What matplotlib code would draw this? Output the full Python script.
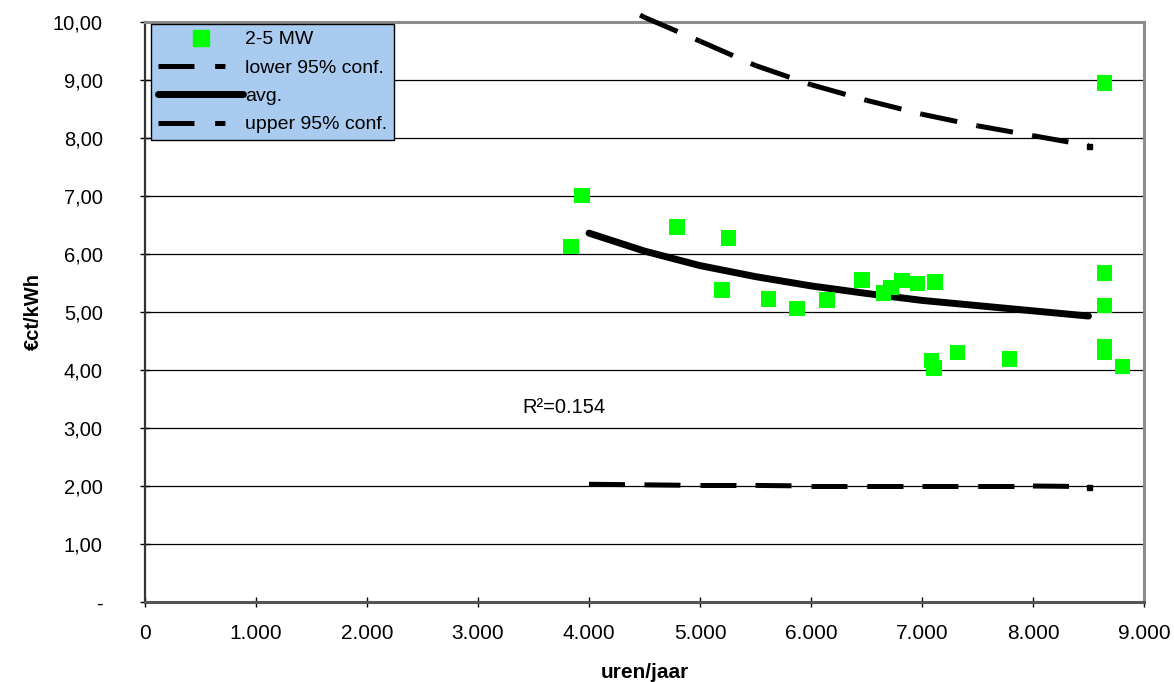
import matplotlib
matplotlib.use("Agg")
import matplotlib.pyplot as plt
from matplotlib.ticker import FuncFormatter, MultipleLocator
from matplotlib.lines import Line2D

plt.rcParams['font.family'] = ['Liberation Sans', 'DejaVu Sans']
plt.rcParams['lines.scale_dashes'] = False

# scatter data: operating hours per year vs cost (€ct/kWh)
hours = [3838, 3937, 4793, 5258, 5198, 5619, 5874, 6144, 6459, 6655, 6721,
         6820, 6961, 7117, 7087, 7108, 7321, 7787, 8643, 8643, 8643, 8643,
         8808, 8646]
cost = [6.13, 7.01, 6.47, 6.28, 5.38, 5.22, 5.06, 5.21, 5.55, 5.33, 5.42,
        5.54, 5.49, 5.52, 4.16, 4.03, 4.30, 4.19, 5.67, 5.11, 4.40, 4.31,
        4.06, 8.95]

# fitted curves
fit_x = [4000, 4500, 5000, 5500, 6000, 6500, 7000, 7500, 8000, 8500]
avg = [6.36, 6.05, 5.80, 5.61, 5.45, 5.32, 5.20, 5.11, 5.02, 4.93]
lower = [2.03, 2.02, 2.01, 2.01, 2.00, 2.00, 2.00, 2.00, 2.00, 1.99]
upper_x = [4460, 4500, 5000, 5500, 6000, 6500, 7000, 7500, 8000, 8500]
upper = [10.12, 10.08, 9.67, 9.25, 8.92, 8.65, 8.41, 8.21, 8.04, 7.87]

r2_text = "R²=0.154"

W, H = 1174, 682
fig = plt.figure(figsize=(W/100, H/100), dpi=100)
ax = fig.add_axes([145/W, 1 - 602/H, (1144-145)/W, (602-22)/H])

ax.set_xlim(0, 9000)
ax.set_ylim(0, 10)

for v in range(1, 11):
    ax.axhline(v, color='black', lw=0.9, zorder=1)

dash = (25.9, 14.0)

def dashed_series(xs, ys):
    # dash pattern restarts at every vertex, as in the original spreadsheet chart
    for i in range(len(xs) - 1):
        ax.plot(xs[i:i+2], ys[i:i+2], color='black', lw=3.6, dashes=dash,
                dash_capstyle='butt', zorder=3, clip_on=False)
    ax.plot(xs[-1:], ys[-1:], marker='s', markersize=3.6, color='black',
            linestyle='none', zorder=3, clip_on=False)

dashed_series(fit_x, lower)
dashed_series(upper_x, upper)
ax.plot(fit_x, avg, color='black', lw=5.0, solid_capstyle='round',
        solid_joinstyle='round', zorder=3)

ax.scatter(hours, cost, marker='s', s=125, color='#00FF00', edgecolors='none',
           zorder=4, clip_on=False)

ax.text(3400, 3.36, r2_text, fontsize=14.5, va='center', ha='left')

ax.xaxis.set_major_locator(MultipleLocator(1000))
ax.yaxis.set_major_locator(MultipleLocator(1))

def xfmt(v, p):
    if v == 0:
        return "0"
    return f"{int(v):,}".replace(",", ".")

def yfmt(v, p):
    if abs(v) < 1e-9:
        return "-"
    return f"{v:.2f}".replace(".", ",")

ax.xaxis.set_major_formatter(FuncFormatter(xfmt))
ax.yaxis.set_major_formatter(FuncFormatter(yfmt))
ax.tick_params(axis='both', direction='inout', length=7, width=1, color='black')
ax.tick_params(axis='x', pad=12, labelsize=15)
ax.tick_params(axis='y', pad=27, labelsize=14.5)

for s in ['top', 'right']:
    ax.spines[s].set_color('#8c8c8c')
    ax.spines[s].set_linewidth(2.2)
ax.spines['left'].set_color('#333333')
ax.spines['left'].set_linewidth(1.6)
ax.spines['bottom'].set_color('#555555')
ax.spines['bottom'].set_linewidth(2.2)

ax.set_xlabel("uren/jaar", fontsize=15, fontweight='bold')
ax.set_ylabel("€ct/kWh", fontsize=14.5, fontweight='bold')
ax.xaxis.set_label_coords((645-145)/(1144-145), -(672-602)/(602-22))
ax.yaxis.set_label_coords(-(145-33)/(1144-145), 0.5)
ax.xaxis.label.set_va('center')
ax.yaxis.label.set_va('center')

leg_dash = (25.9, 14.9, 7.4, 60)
handles = [
    Line2D([], [], marker='s', color='#00FF00', linestyle='none', markersize=11),
    Line2D([], [], color='black', lw=3.6, dashes=leg_dash, dash_capstyle='butt'),
    Line2D([], [], color='black', lw=5.0, solid_capstyle='round'),
    Line2D([], [], color='black', lw=3.6, dashes=leg_dash, dash_capstyle='butt'),
]
labels = ["2-5 MW", "lower 95% conf.", "avg.", "upper 95% conf."]
leg = fig.legend(handles, labels, loc='upper left',
                 bbox_to_anchor=(151/W, 1 - 24/H),
                 fontsize=14, frameon=True, fancybox=False,
                 handlelength=4.4, handletextpad=0.1, labelspacing=0.55,
                 borderpad=0.35, borderaxespad=0)
leg.get_frame().set_facecolor('#A9CBEF')
leg.get_frame().set_edgecolor('black')
leg.get_frame().set_linewidth(1.0)
leg.get_frame().set_alpha(1)

fig.savefig("out.png", dpi=100)
